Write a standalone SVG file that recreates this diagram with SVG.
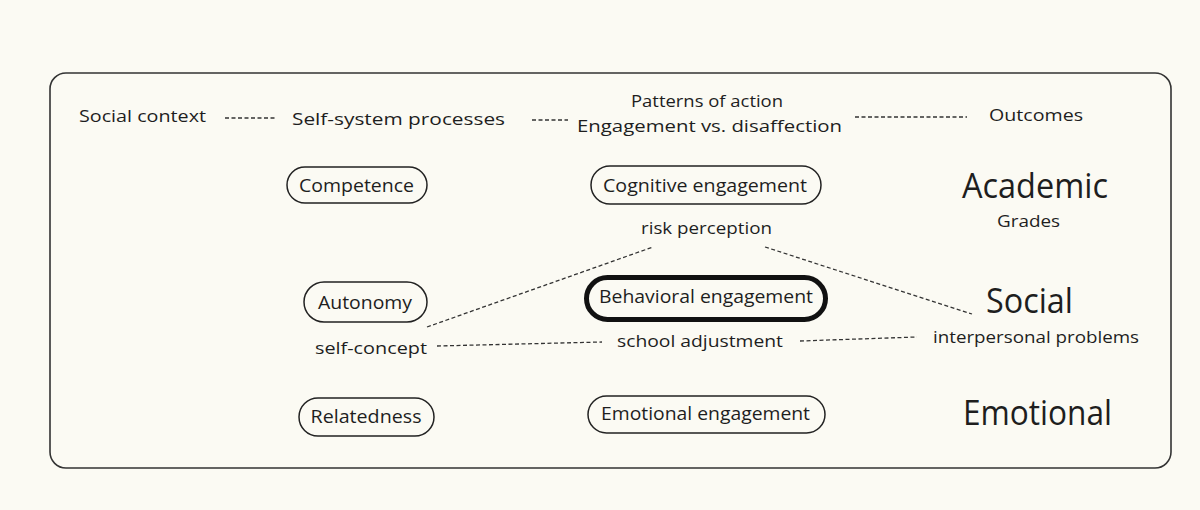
<svg xmlns="http://www.w3.org/2000/svg" width="1200" height="510" viewBox="0 0 1200 510">
<style>
text{font-family:"Open Sans","Liberation Sans",sans-serif;fill:#1e1e1e;text-anchor:middle}
.h{font-size:17px}
.n{font-size:17.5px}
.s{font-size:16px}
.b{font-size:34px}
.pill{fill:none;stroke:#222;stroke-width:1.5}
.thick{fill:none;stroke:#111;stroke-width:5}
.d{fill:none;stroke:#333;stroke-width:1.3;stroke-dasharray:4 2.5}
</style>
<rect width="1200" height="510" fill="#fbfaf3"/>
<rect x="50" y="73" width="1121" height="395" rx="16" fill="#fbfaf3" stroke="#333" stroke-width="1.6"/>
<g id="headers">
<text class="h" x="142.5" y="122" textLength="127" lengthAdjust="spacingAndGlyphs">Social context</text>
<text class="h" x="398.5" y="125" textLength="213" lengthAdjust="spacingAndGlyphs">Self-system processes</text>
<text class="h" x="707" y="107" textLength="152" lengthAdjust="spacingAndGlyphs">Patterns of action</text>
<text class="h" x="709.5" y="132" textLength="265" lengthAdjust="spacingAndGlyphs">Engagement vs. disaffection</text>
<text class="h" x="1036" y="121" textLength="94" lengthAdjust="spacingAndGlyphs">Outcomes</text>
</g>
<g id="connectors">
<line class="d" x1="225" y1="118" x2="277" y2="118"/>
<line class="d" x1="532" y1="120" x2="568" y2="120"/>
<line class="d" x1="855" y1="117" x2="967" y2="117"/>
<line class="d" x1="427" y1="327" x2="653" y2="247"/>
<line class="d" x1="765" y1="247" x2="972" y2="314"/>
<line class="d" x1="437" y1="346" x2="602" y2="342"/>
<line class="d" x1="800" y1="341" x2="917" y2="337"/>
</g>
<g id="competence"><rect class="pill" x="287" y="167" width="140" height="36" rx="18"/><text class="n" x="356.5" y="192" textLength="115" lengthAdjust="spacingAndGlyphs">Competence</text></g>
<g id="cognitive"><rect class="pill" x="591" y="166" width="230" height="38" rx="19"/><text class="n" x="705" y="192" textLength="204" lengthAdjust="spacingAndGlyphs">Cognitive engagement</text></g>
<g id="academic"><text class="b" x="1035" y="198" textLength="146" lengthAdjust="spacingAndGlyphs">Academic</text><text class="s" x="1028.5" y="227" textLength="63" lengthAdjust="spacingAndGlyphs">Grades</text></g>
<g id="risk"><text class="h" x="706.5" y="234" textLength="131" lengthAdjust="spacingAndGlyphs">risk perception</text></g>
<g id="autonomy"><rect class="pill" x="304" y="282" width="123" height="40" rx="20"/><text class="n" x="365" y="309" textLength="94" lengthAdjust="spacingAndGlyphs">Autonomy</text></g>
<g id="behavioral"><rect class="thick" x="586.5" y="277.5" width="239" height="42" rx="21"/><text class="n" x="706" y="303" textLength="214" lengthAdjust="spacingAndGlyphs">Behavioral engagement</text></g>
<g id="social"><text class="b" x="1029.5" y="313" textLength="87" lengthAdjust="spacingAndGlyphs">Social</text></g>
<g id="selfconcept"><text class="h" x="371" y="354" textLength="112" lengthAdjust="spacingAndGlyphs">self-concept</text></g>
<g id="school"><text class="h" x="700" y="347" textLength="166" lengthAdjust="spacingAndGlyphs">school adjustment</text></g>
<g id="interpersonal"><text class="h" x="1036" y="343" textLength="206" lengthAdjust="spacingAndGlyphs">interpersonal problems</text></g>
<g id="relatedness"><rect class="pill" x="299" y="398" width="135" height="38" rx="19"/><text class="n" x="366" y="423" textLength="111" lengthAdjust="spacingAndGlyphs">Relatedness</text></g>
<g id="emotional-eng"><rect class="pill" x="588" y="396" width="237" height="37" rx="18.5"/><text class="n" x="705.5" y="420" textLength="209" lengthAdjust="spacingAndGlyphs">Emotional engagement</text></g>
<g id="emotional"><text class="b" x="1037.5" y="425" textLength="149" lengthAdjust="spacingAndGlyphs">Emotional</text></g>
</svg>
